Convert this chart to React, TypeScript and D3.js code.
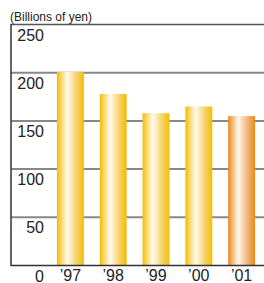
import React from "react";
import * as d3 from "d3";

const years = ["’97", "’98", "’99", "’00", "’01"];
const sales = [201, 178, 158, 165, 155];
const yTicks = [0, 50, 100, 150, 200, 250];

const W = 264;
const H = 283;

export default function App() {
  const x = d3.scaleBand<string>().domain(years).range([49, 263]).paddingInner(0.37).paddingOuter(0.185);
  const y = d3.scaleLinear().domain([0, 250]).range([265.5, 24.5]);
  const font = "'Liberation Sans', Arial, Helvetica, sans-serif";

  return (
    <svg width={W} height={H} style={{ position: "absolute", left: 0, top: 0 }}>
      <defs>
        <linearGradient id="gy" x1="0" x2="1" y1="0" y2="0">
          <stop offset="0" stopColor="#f4bd00" />
          <stop offset="0.38" stopColor="#fffaf0" />
          <stop offset="0.75" stopColor="#f6d060" />
          <stop offset="1" stopColor="#f4bd00" />
        </linearGradient>
        <linearGradient id="go" x1="0" x2="1" y1="0" y2="0">
          <stop offset="0" stopColor="#e88a1a" />
          <stop offset="0.38" stopColor="#fff6ec" />
          <stop offset="0.75" stopColor="#f0b070" />
          <stop offset="1" stopColor="#e88a1a" />
        </linearGradient>
      </defs>
      <text x={10} y={21} fontFamily={font} fontSize={13} textLength={82} lengthAdjust="spacingAndGlyphs" fill="#222">
        (Billions of yen)
      </text>
      {yTicks.filter((t) => t > 0).map((t) => (
        <line key={t} x1={11} x2={W} y1={y(t)} y2={y(t)} stroke={t === 250 ? "#555" : "#888"} strokeWidth={t === 250 ? 1.5 : 2} />
      ))}
      {years.map((yr, i) => (
        <rect
          key={yr}
          x={x(yr)}
          y={y(sales[i])}
          width={x.bandwidth()}
          height={y(0) - y(sales[i])}
          fill={i === years.length - 1 ? "url(#go)" : "url(#gy)"}
        />
      ))}
      <line x1={11} x2={11} y1={24} y2={266} stroke="#333" strokeWidth={1.5} />
      <line x1={11} x2={W} y1={265.5} y2={265.5} stroke="#333" strokeWidth={1.5} />
      {yTicks.map((t) => (
        <text key={t} x={44} y={y(t) + 16} textAnchor="end" fontFamily={font} fontSize={16} fill="#222">
          {t}
        </text>
      ))}
      {years.map((yr) => (
        <text key={yr} x={(x(yr) ?? 0) + x.bandwidth() / 2} y={281} textAnchor="middle" fontFamily={font} fontSize={16} fill="#222">
          {yr}
        </text>
      ))}
    </svg>
  );
}
